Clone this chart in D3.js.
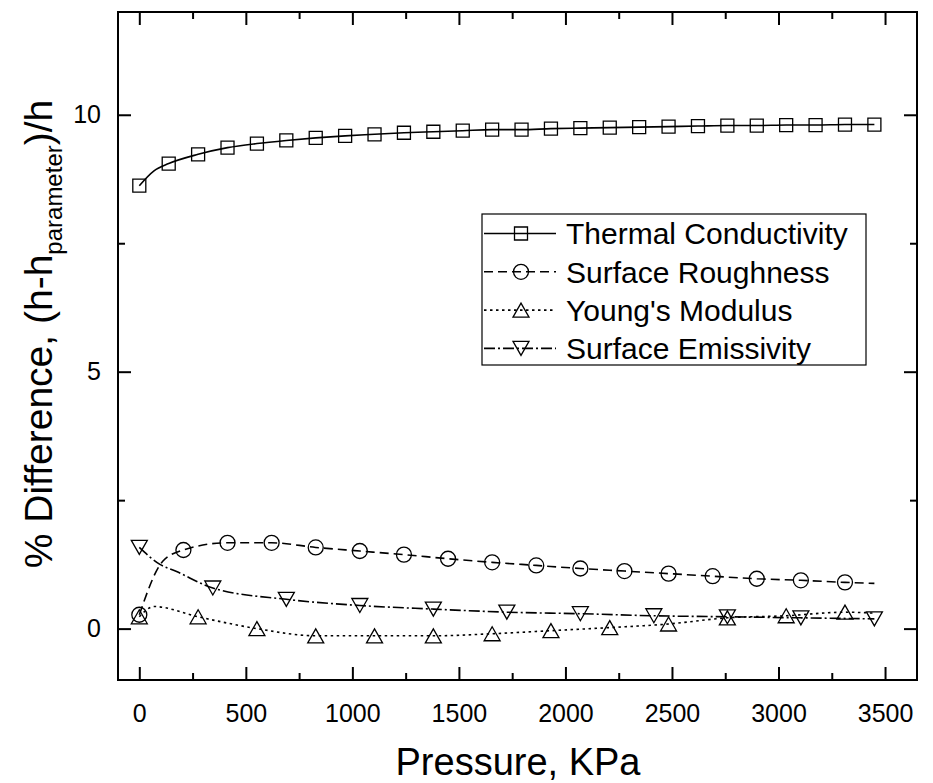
<!DOCTYPE html>
<html>
<head>
<meta charset="utf-8">
<script src="https://cdn.jsdelivr.net/npm/d3@7"></script>
<style>
  body { margin: 0; background: #fff; }
  text { font-family: "Liberation Sans", Arial, sans-serif; fill: #000; }
</style>
</head>
<body>
<svg id="chart" width="933" height="783"></svg>
<script>
// marker points (pressure in KPa, % difference)
const pressureTC = [0, 138, 276, 414, 552, 690, 828, 966, 1104, 1242, 1380, 1518, 1656,
  1794, 1932, 2070, 2208, 2346, 2484, 2622, 2760, 2898, 3036, 3174, 3312, 3450];
const valueTC = [8.62, 9.05, 9.23, 9.36, 9.44, 9.50, 9.55, 9.59, 9.62, 9.65, 9.67, 9.69, 9.71,
  9.71, 9.73, 9.74, 9.75, 9.76, 9.77, 9.78, 9.79, 9.79, 9.80, 9.80, 9.81, 9.81];

const pressureSR = [0, 207, 414, 621, 828, 1035, 1242, 1449, 1656, 1863, 2070, 2277, 2484,
  2691, 2898, 3105, 3312];
const valueSR = [0.27, 1.53, 1.67, 1.67, 1.58, 1.51, 1.44, 1.36, 1.29, 1.23, 1.17, 1.12, 1.07,
  1.02, 0.97, 0.94, 0.90];

const pressureYM = [0, 276, 552, 828, 1104, 1380, 1656, 1932, 2208, 2484, 2760, 3036, 3312];
const valueYM = [0.23, 0.23, 0.00, -0.14, -0.14, -0.14, -0.10, -0.04, 0.02, 0.09, 0.21, 0.25, 0.32];

const pressureSE = [0, 345, 690, 1035, 1380, 1725, 2070, 2415, 2760, 3105, 3450];
const valueSE = [1.58, 0.79, 0.57, 0.45, 0.38, 0.32, 0.29, 0.25, 0.23, 0.21, 0.19];

// extra points on the lines that carry no marker
const lineOnlyTC = [[69, 8.91]];
const lineOnlySR = [[110, 1.31], [3450, 0.88]];
const lineOnlyYM = [[69, 0.43], [3450, 0.30]];
const lineOnlySE = [[97, 1.25], [175, 1.11]];

const seriesNames = ["Thermal Conductivity", "Surface Roughness", "Young's Modulus", "Surface Emissivity"];
const xTicks = [0, 500, 1000, 1500, 2000, 2500, 3000, 3500];
const xMinorTicks = [250, 750, 1250, 1750, 2250, 2750, 3250];
const yTicks = [0, 5, 10];
const yMinorTicks = [2.5, 7.5];

const plotLeft = 118, plotRight = 917, plotTop = 12, plotBottom = 680;

const svg = d3.select('#chart');

const x = d3.scaleLinear().domain([-100, 3650]).range([plotLeft, plotRight]);
const y = d3.scaleLinear().domain([-1, 12]).range([plotBottom, plotTop]);

function zip(px, vy) {
  return px.map((p, i) => [p, vy[i]]);
}

const series = [
  { name: seriesNames[0], marks: zip(pressureTC, valueTC), extra: lineOnlyTC, dash: null, shape: 'square' },
  { name: seriesNames[1], marks: zip(pressureSR, valueSR), extra: lineOnlySR, dash: '9,5', shape: 'circle' },
  { name: seriesNames[2], marks: zip(pressureYM, valueYM), extra: lineOnlyYM, dash: '2.5,3.5', shape: 'up' },
  { name: seriesNames[3], marks: zip(pressureSE, valueSE), extra: lineOnlySE, dash: '11,3,2,3', shape: 'down' }
];

function markerPath(shape) {
  if (shape === 'square') { return 'M-6.5,-6.5H6.5V6.5H-6.5Z'; }
  if (shape === 'circle') { return 'M7.5,0A7.5,7.5 0 1,1 -7.5,0A7.5,7.5 0 1,1 7.5,0Z'; }
  if (shape === 'up') { return 'M0,-7L8,7H-8Z'; }
  return 'M0,7L8,-7H-8Z';
}

const line = d3.line()
  .x(d => x(d[0]))
  .y(d => y(d[1]))
  .curve(d3.curveMonotoneX);

// axes
function drawAxes() {
  const g = svg.append('g');

  g.append('g')
    .attr('transform', `translate(0,${plotBottom})`)
    .call(d3.axisBottom(x).tickValues(xTicks).tickSize(-13).tickPadding(24).tickFormat(d3.format('d')))
    .call(a => a.selectAll('text').attr('font-size', 25));
  g.append('g')
    .attr('transform', `translate(0,${plotBottom})`)
    .call(d3.axisBottom(x).tickValues(xMinorTicks).tickSize(-7).tickFormat(''));
  g.append('g')
    .attr('transform', `translate(0,${plotTop})`)
    .call(d3.axisTop(x).tickValues(xTicks).tickSize(-13).tickFormat(''));
  g.append('g')
    .attr('transform', `translate(0,${plotTop})`)
    .call(d3.axisTop(x).tickValues(xMinorTicks).tickSize(-7).tickFormat(''));

  g.append('g')
    .attr('transform', `translate(${plotLeft},0)`)
    .call(d3.axisLeft(y).tickValues(yTicks).tickSize(-13).tickPadding(17).tickFormat(d3.format('d')))
    .call(a => a.selectAll('text').attr('font-size', 25));
  g.append('g')
    .attr('transform', `translate(${plotLeft},0)`)
    .call(d3.axisLeft(y).tickValues(yMinorTicks).tickSize(-7).tickFormat(''));
  g.append('g')
    .attr('transform', `translate(${plotRight},0)`)
    .call(d3.axisRight(y).tickValues(yTicks).tickSize(-13).tickFormat(''));
  g.append('g')
    .attr('transform', `translate(${plotRight},0)`)
    .call(d3.axisRight(y).tickValues(yMinorTicks).tickSize(-7).tickFormat(''));

  g.selectAll('.domain').remove();
  g.selectAll('.tick line').attr('stroke', '#000').attr('stroke-width', 2);
  g.selectAll('.tick text').attr('font-family', '"Liberation Sans", Arial, sans-serif').attr('fill', '#000');

  svg.append('rect')
    .attr('x', plotLeft).attr('y', plotTop)
    .attr('width', plotRight - plotLeft).attr('height', plotBottom - plotTop)
    .attr('fill', 'none').attr('stroke', '#000').attr('stroke-width', 2);

  svg.append('text')
    .attr('x', 518)
    .attr('y', 775)
    .attr('text-anchor', 'middle')
    .attr('font-size', 38)
    .text('Pressure, KPa');

  const yt = svg.append('text')
    .attr('transform', 'translate(52,334) rotate(-90)')
    .attr('text-anchor', 'middle')
    .attr('font-size', 39);
  yt.append('tspan').text('% Difference, (h-h');
  yt.append('tspan').attr('font-size', 24).attr('dy', 10).text('parameter');
  yt.append('tspan').attr('dy', -10).text(')/h');
}

function drawSeries() {
  const g = svg.append('g');
  series.forEach(s => {
    const pts = s.marks.concat(s.extra).sort((a, b) => a[0] - b[0]);
    g.append('path')
      .datum(pts)
      .attr('d', line)
      .attr('fill', 'none')
      .attr('stroke', '#000')
      .attr('stroke-width', 1.6)
      .attr('stroke-dasharray', s.dash);
    g.selectAll(null)
      .data(s.marks)
      .enter().append('path')
      .attr('transform', d => `translate(${x(d[0])},${y(d[1])})`)
      .attr('d', markerPath(s.shape))
      .attr('fill', 'none')
      .attr('stroke', '#000')
      .attr('stroke-width', 1.3);
  });
}

function drawLegend() {
  const g = svg.append('g').attr('transform', 'translate(482,214)');
  g.append('rect')
    .attr('width', 384).attr('height', 151)
    .attr('fill', '#fff').attr('stroke', '#000').attr('stroke-width', 1.2);
  const rows = g.selectAll('g.row')
    .data(series)
    .enter().append('g')
    .attr('class', 'row')
    .attr('transform', (d, i) => `translate(0,${19.5 + i * 38.3})`);
  rows.append('line')
    .attr('x1', 2).attr('x2', 74)
    .attr('stroke', '#000').attr('stroke-width', 1.6)
    .attr('stroke-dasharray', d => d.dash);
  rows.append('path')
    .attr('transform', 'translate(39,0)')
    .attr('d', d => markerPath(d.shape))
    .attr('fill', 'none').attr('stroke', '#000').attr('stroke-width', 1.3);
  rows.append('text')
    .attr('x', 84)
    .attr('dy', '0.36em')
    .attr('font-size', 30)
    .text(d => d.name);
}

const main = () => {
  drawAxes();
  drawSeries();
  drawLegend();
};

main();
</script>
</body>
</html>
